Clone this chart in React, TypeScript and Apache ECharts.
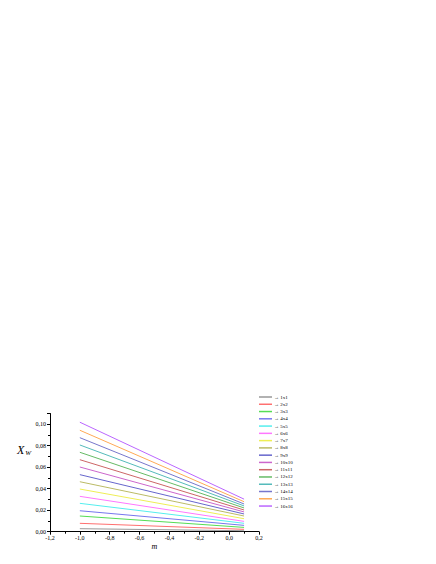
import React, { useEffect, useRef } from "react";
import * as echarts from "echarts";

const mValues = [-1.0, 0.1];
const seriesNames = ["1x1", "2x2", "3x3", "4x4", "5x5", "6x6", "7x7", "8x8", "9x9", "10x10", "11x11", "12x12", "13x13", "14x14", "15x15", "16x16"];
const valuesAtMinus1 = [0.0028, 0.0078, 0.0146, 0.0195, 0.0264, 0.0329, 0.0397, 0.0465, 0.0531, 0.0602, 0.067, 0.0739, 0.0807, 0.0875, 0.0944, 0.1019];
const valuesAt01 = [0.0009, 0.0022, 0.004, 0.0059, 0.0078, 0.0096, 0.0121, 0.0146, 0.0165, 0.0184, 0.0202, 0.0221, 0.024, 0.0258, 0.0279, 0.0303];
const colors = ["#999999", "#ff7070", "#55dd55", "#7777ee", "#55eeee", "#ff77ff", "#eeee55", "#bbbb66", "#6666cc", "#cc66cc", "#cc6666", "#66bb66", "#55bbbb", "#7777cc", "#ffaa55", "#bb66ff"];

const fmt1 = (v: number) => (Math.round(v * 10) / 10).toFixed(1).replace(".", ",");
const fmt2 = (v: number) => (Math.round(v * 100) / 100).toFixed(2).replace(".", ",");

export default function App() {
  const ref = useRef<HTMLDivElement>(null);
  useEffect(() => {
    if (!ref.current) return;
    const chart = echarts.init(ref.current, undefined, { renderer: "svg" });
    const font = "Liberation Serif";
    const series = seriesNames.map((name, i) => ({
      name,
      type: "line",
      data: mValues.map((m, k) => [m, [valuesAtMinus1[i], valuesAt01[i]][k]]),
      showSymbol: false,
      symbol: "none",
      lineStyle: { width: 1, color: colors[i] },
      itemStyle: { color: colors[i] },
      z: 2 + i,
    }));
    chart.setOption({
      animation: false,
      backgroundColor: "#ffffff",
      grid: { left: 50, right: 177, top: 413.5, bottom: 32.3, containLabel: false },
      legend: {
        orient: "vertical",
        left: 259,
        top: 394,
        padding: 0,
        icon: "rect",
        itemWidth: 13,
        itemHeight: 1.5,
        itemGap: 1.27,
        textStyle: { fontFamily: font, fontSize: 5, lineHeight: 6, color: "#000", padding: [0, 0, 0, -3] },
        formatter: (name: string) => "\u2192 " + name,
        data: seriesNames,
      },
      xAxis: {
        type: "value",
        min: -1.2,
        max: 0.2,
        interval: 0.2,
        name: "m",
        nameLocation: "middle",
        nameGap: 11,
        nameTextStyle: { fontFamily: font, fontSize: 8, fontStyle: "italic", color: "#000" },
        axisLine: { show: true, onZero: false, lineStyle: { color: "#000", width: 1 } },
        axisTick: { show: true, length: 3, inside: false, lineStyle: { color: "#000" } },
        minorTick: { show: true, splitNumber: 2, length: 2, lineStyle: { color: "#000" } },
        splitLine: { show: false },
        axisLabel: { fontFamily: font, fontSize: 6, color: "#000", margin: 3, formatter: (v: number) => fmt1(v) },
      },
      yAxis: {
        type: "value",
        min: 0,
        max: 0.11,
        interval: 0.02,
        axisLine: { show: true, onZero: false, lineStyle: { color: "#000", width: 1 } },
        axisTick: { show: true, length: 3, inside: false, lineStyle: { color: "#000" } },
        minorTick: { show: true, splitNumber: 2, length: 2, lineStyle: { color: "#000" } },
        splitLine: { show: false },
        axisLabel: {
          fontFamily: font,
          fontSize: 6,
          color: "#000",
          margin: 4,
          showMaxLabel: false,
          formatter: (v: number) => (Math.abs(v * 50 - Math.round(v * 50)) < 1e-6 ? fmt2(v) : ""),
        },
      },
      graphic: [
        {
          type: "text",
          left: 17,
          top: 444,
          style: {
            text: "{a|X}{b|W}",
            rich: {
              a: { fontFamily: font, fontSize: 12, fontStyle: "italic", fill: "#000" },
              b: { fontFamily: font, fontSize: 7, fontStyle: "italic", fill: "#000", padding: [6, 0, 0, 1] },
            },
          },
        },
      ],
      series,
    });
    return () => chart.dispose();
  }, []);
  return <div ref={ref} style={{ position: "absolute", left: 0, top: 0, width: 436, height: 564 }} />;
}
